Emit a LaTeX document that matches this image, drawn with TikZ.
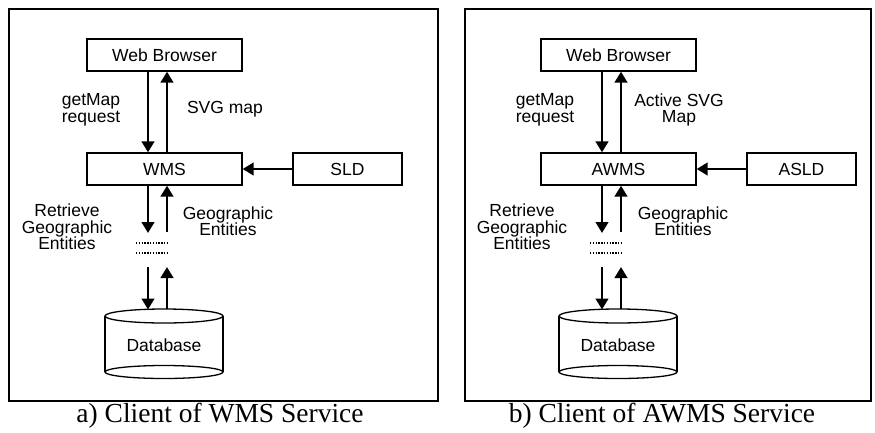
\documentclass[tikz,border=0pt]{standalone}
\usepackage{fontspec}
\setmainfont{Liberation Sans}
\newfontfamily\capfont{Liberation Serif}
\usetikzlibrary{arrows.meta}
\begin{document}
\begin{tikzpicture}[x=1pt,y=-1pt,
  box/.style={draw,line width=1.3pt,inner sep=0pt,minimum height=32pt,
    font=\fontsize{17.5}{16.5}\selectfont},
  lbl/.style={font=\fontsize{17.5}{16.5}\selectfont,align=center,inner sep=0pt},
  arr/.style={line width=2.7pt,-{Triangle[length=11pt,width=12.5pt]}},
  panel/.style={draw,line width=1.5pt},
  dots/.style={line width=1.6pt,dash pattern=on 1.4pt off 1.4pt},
  cyl/.style={draw,line width=1.3pt},
  captext/.style={font=\capfont\fontsize{27.5}{27.5}\selectfont,inner sep=0pt,anchor=base}]
\useasboundingbox (0,0) rectangle (875,432);

% ---------- a) WMS client ----------
\draw[panel] (9,9) rectangle (438,401);
\node[box,minimum width=155pt] (wbA) at (164.5,55) {Web Browser};
\node[box,minimum width=155pt] (wmsA) at (164.5,169) {WMS};
\node[box,minimum width=109pt] (sldA) at (347.5,169) {SLD};

\draw[arr] ([xshift=-16.5pt]wbA.south) -- ([xshift=-16.5pt]wmsA.north);
\draw[arr] ([xshift=2.5pt]wmsA.north) -- ([xshift=2.5pt]wbA.south);
\draw[arr] (sldA.west) -- (wmsA.east);

\node[lbl,align=left] (reqA) at (91,110) {getMap\\request};
\node[lbl] (svgA) at (225,109) {SVG map};

\coordinate (rdA) at (148,233);
\coordinate (ruA) at (167,232);
\draw[arr] ([xshift=-16.5pt]wmsA.south) -- (rdA);
\draw[arr] (ruA) -- ([xshift=2.5pt]wmsA.south);
\draw[dots] (136,243) -- (167,243);
\draw[dots] (136,253) -- (167,253);

\node[lbl] (retA) at (67,227) {Retrieve\\Geographic\\Entities};
\node[lbl] (geoA) at (228,221) {Geographic\\Entities};

% database cylinder
\draw[cyl] (105,316) -- (105,372);
\draw[cyl] (223,316) -- (223,372);
\draw[cyl,fill=white] (164,316) ellipse[x radius=59,y radius=7];
\draw[cyl] (164,372) ellipse[x radius=59,y radius=6.5];
\node[lbl] (dbA) at (164,345) {Database};
\coordinate (dbtopdA) at (148,309.5);
\coordinate (dbtopuA) at (167,309);
\coordinate (ldA) at (148,267);
\coordinate (luA) at (167,267);
\draw[arr] (ldA) -- (dbtopdA);
\draw[arr] (dbtopuA) -- (luA);

\node[captext] (capA) at (220,422) {a) Client of WMS Service};

% ---------- b) AWMS client ----------
\draw[panel] (465,9) rectangle (871,401);
\node[box,minimum width=155pt] (wbB) at (618.5,55) {Web Browser};
\node[box,minimum width=155pt] (wmsB) at (618.5,169) {AWMS};
\node[box,minimum width=109pt] (sldB) at (801.5,169) {ASLD};

\draw[arr] ([xshift=-16.5pt]wbB.south) -- ([xshift=-16.5pt]wmsB.north);
\draw[arr] ([xshift=2.5pt]wmsB.north) -- ([xshift=2.5pt]wbB.south);
\draw[arr] (sldB.west) -- (wmsB.east);

\node[lbl,align=left] (reqB) at (545,110) {getMap\\request};
\node[lbl] (svgB) at (679,110) {Active SVG\\Map};

\coordinate (rdB) at (602,233);
\coordinate (ruB) at (621,232);
\draw[arr] ([xshift=-16.5pt]wmsB.south) -- (rdB);
\draw[arr] (ruB) -- ([xshift=2.5pt]wmsB.south);
\draw[dots] (590,243) -- (621,243);
\draw[dots] (590,253) -- (621,253);

\node[lbl] (retB) at (522,227) {Retrieve\\Geographic\\Entities};
\node[lbl] (geoB) at (683,221) {Geographic\\Entities};

\draw[cyl] (559,316) -- (559,372);
\draw[cyl] (677,316) -- (677,372);
\draw[cyl,fill=white] (618,316) ellipse[x radius=59,y radius=7];
\draw[cyl] (618,372) ellipse[x radius=59,y radius=6.5];
\node[lbl] (dbB) at (618,345) {Database};
\coordinate (dbtopdB) at (602,309.5);
\coordinate (dbtopuB) at (621,309);
\coordinate (ldB) at (602,267);
\coordinate (luB) at (621,267);
\draw[arr] (ldB) -- (dbtopdB);
\draw[arr] (dbtopuB) -- (luB);

\node[captext] (capB) at (662,422) {b) Client of AWMS Service};
\end{tikzpicture}
\end{document}
